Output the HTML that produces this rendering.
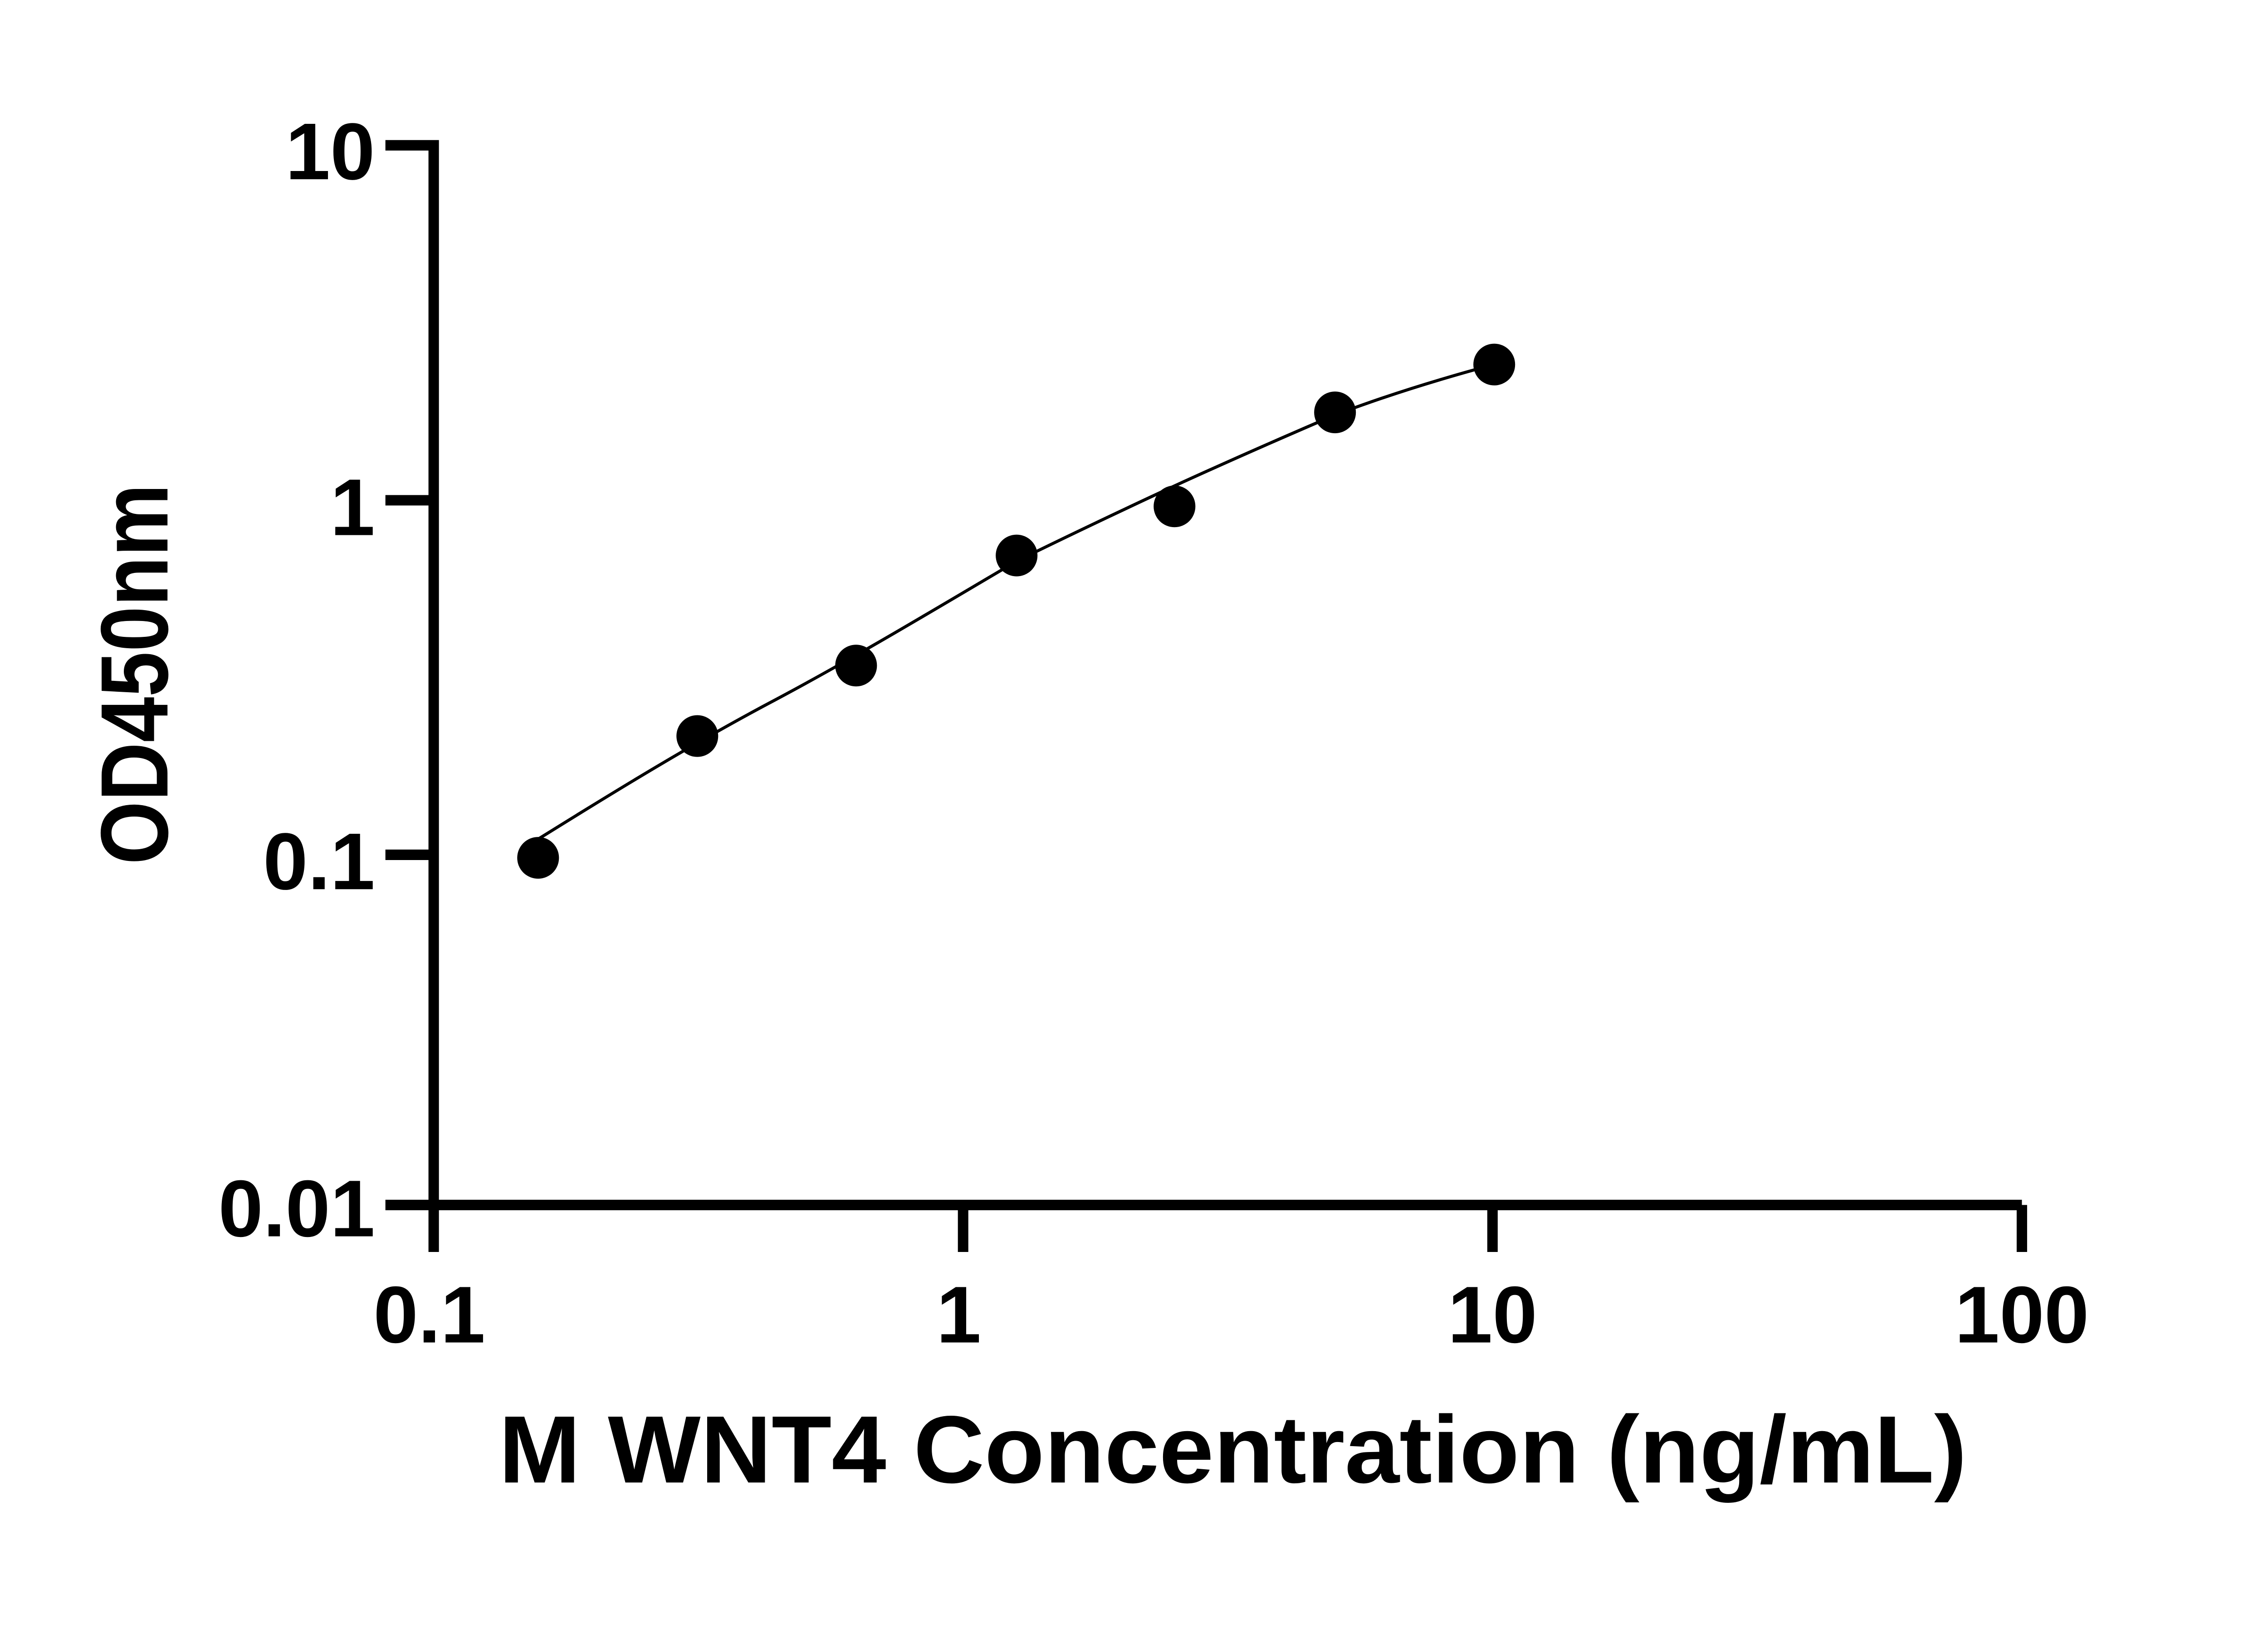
<!DOCTYPE html>
<html><head><meta charset="utf-8"><style>html,body{margin:0;padding:0;background:#fff}svg{display:block}</style></head>
<body>
<svg width="5137" height="3600" viewBox="0 0 5137 3600" xmlns="http://www.w3.org/2000/svg">
<rect width="5137" height="3600" fill="#fff"/>
<g transform="scale(0.959)">
<g stroke="#000" stroke-width="24" fill="none" stroke-linecap="butt">
<polyline points="886,334 997,334 997,2770 4648,2770"/>
<line x1="886" y1="1150" x2="997" y2="1150"/>
<line x1="886" y1="1965" x2="997" y2="1965"/>
<line x1="886" y1="2770" x2="997" y2="2770"/>
<line x1="997" y1="2770" x2="997" y2="2878"/>
<line x1="2214" y1="2770" x2="2214" y2="2878"/>
<line x1="3431" y1="2770" x2="3431" y2="2878"/>
<line x1="4648" y1="2770" x2="4648" y2="2878"/>
</g>
<g font-family="Liberation Sans, sans-serif" font-weight="bold" font-size="185" fill="#000" text-anchor="end">
<text x="862" y="412">10</text>
<text x="862" y="1230">1</text>
<text x="862" y="2044">0.1</text>
<text x="862" y="2842">0.01</text>
</g>
<g font-family="Liberation Sans, sans-serif" font-weight="bold" font-size="185" fill="#000" text-anchor="middle">
<text x="987" y="3086">0.1</text>
<text x="2204" y="3086">1</text>
<text x="3431" y="3086">10</text>
<text x="4648" y="3086">100</text>
</g>
<text x="2834" y="3408" font-family="Liberation Sans, sans-serif" font-weight="bold" font-size="220" text-anchor="middle" textLength="3375" lengthAdjust="spacingAndGlyphs">M WNT4 Concentration (ng/mL)</text>
<text transform="translate(385,1550) rotate(-90)" font-family="Liberation Sans, sans-serif" font-weight="bold" font-size="220" text-anchor="middle" textLength="875" lengthAdjust="spacingAndGlyphs">OD450nm</text>
<path d="M1237,1929 C1420,1815 1600,1705 1780,1610 C1968,1510 2150,1400 2337,1290 C2520,1200 2700,1117 2700,1117 C2890,1030 3069,954 3069,954 C3250,885 3435,838 3435,838" stroke="#000" stroke-width="7" fill="none"/>
<g fill="#000">
<circle cx="1237" cy="1972" r="48"/>
<circle cx="1603" cy="1692" r="48"/>
<circle cx="1968" cy="1530" r="48"/>
<circle cx="2337" cy="1277" r="48"/>
<circle cx="2700" cy="1164" r="48"/>
<circle cx="3069" cy="948" r="48"/>
<circle cx="3435" cy="838" r="48"/>
</g>
</g>
</svg>
</body></html>
